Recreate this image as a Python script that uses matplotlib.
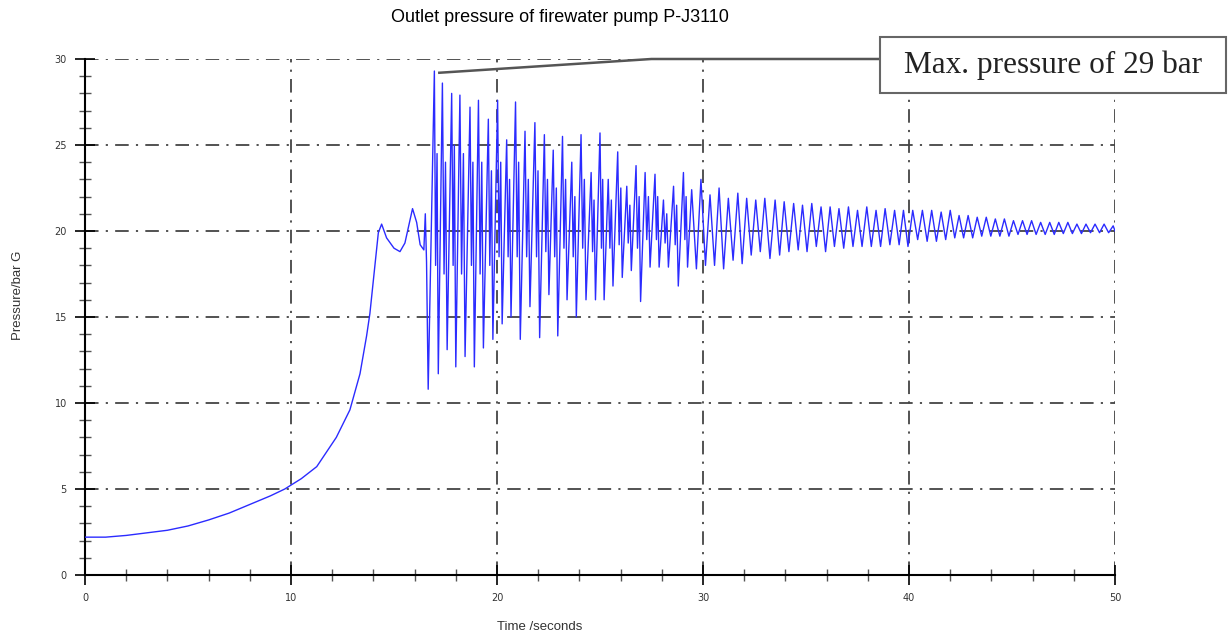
import numpy as np
import matplotlib.pyplot as plt
from matplotlib.ticker import MultipleLocator
from matplotlib.patches import Rectangle

# start-up curve
rise_t = [0, 1, 2, 3, 4, 5, 6, 7, 8, 9, 9.7, 10.5, 11.25, 12.2, 12.86, 13.35,
          13.67, 13.83, 14.08, 14.24, 14.4, 14.64, 15.0, 15.29, 15.53, 15.9,
          16.1, 16.27, 16.45, 16.52, 16.58, 16.66]
rise_p = [2.2, 2.2, 2.3, 2.45, 2.6, 2.85, 3.2, 3.6, 4.1, 4.6, 5.0, 5.6, 6.3,
          8.0, 9.6, 11.7, 13.9, 15.2, 18.1, 19.9, 20.4, 19.6, 19.0, 18.8, 19.3,
          21.3, 20.5, 19.2, 18.9, 21.0, 18.2, 10.8]

# oscillation peaks
peak_t = [16.96, 17.35, 17.80, 18.20, 18.69, 19.10, 19.58, 20.03, 20.47, 20.90,
          21.36, 21.84, 22.30, 22.73, 23.18, 23.63, 24.08, 24.57, 25.00, 25.40,
          25.86, 26.30, 26.75, 27.19, 27.67, 28.08, 28.57, 29.05, 29.45, 29.90,
          30.34, 30.78, 31.23, 31.69, 32.12, 32.56, 33.00, 33.50, 33.94, 34.40,
          34.83, 35.28, 35.73, 36.17, 36.60, 37.06, 37.50, 37.95, 38.40, 38.84,
          39.30, 39.73, 40.18, 40.65, 41.10, 41.56, 42.00, 42.43, 42.87, 43.31,
          43.75, 44.19, 44.63, 45.07, 45.51, 45.95, 46.39, 46.83, 47.27, 47.71,
          48.15, 48.59, 49.03, 49.47, 49.91]
peak_p = [29.3, 28.6, 28.0, 27.9, 27.2, 27.6, 26.5, 27.6, 25.3, 27.5,
          25.8, 26.3, 25.6, 24.7, 25.5, 24.0, 25.6, 23.4, 25.7, 23.0,
          24.6, 22.6, 23.8, 23.4, 23.3, 21.8, 22.6, 23.4, 22.4, 23.0,
          22.1, 22.5, 21.9, 22.2, 21.9, 21.8, 21.9, 21.8, 21.7, 21.6,
          21.5, 21.6, 21.4, 21.4, 21.3, 21.4, 21.2, 21.4, 21.2, 21.3,
          21.2, 21.2, 21.2, 21.2, 21.2, 21.1, 21.2, 20.9, 20.9, 20.8,
          20.8, 20.7, 20.7, 20.6, 20.6, 20.6, 20.5, 20.5, 20.5, 20.5,
          20.4, 20.4, 20.4, 20.4, 20.3]

# oscillation troughs
trough_t = [17.15, 17.58, 18.00, 18.45, 18.90, 19.34, 19.80, 20.25, 20.68, 21.13,
            21.60, 22.07, 22.52, 22.95, 23.40, 23.85, 24.32, 24.78, 25.20, 25.63,
            26.08, 26.52, 26.97, 27.43, 27.87, 28.32, 28.80, 29.25, 29.68, 30.12,
            30.56, 31.00, 31.46, 31.90, 32.34, 32.78, 33.25, 33.72, 34.17, 34.62,
            35.05, 35.50, 35.95, 36.38, 36.83, 37.28, 37.72, 38.17, 38.62, 39.07,
            39.52, 39.95, 40.42, 40.88, 41.33, 41.78, 42.22, 42.65, 43.09, 43.53,
            43.97, 44.41, 44.85, 45.29, 45.73, 46.17, 46.61, 47.05, 47.49, 47.93,
            48.37, 48.81, 49.25, 49.69, 50.0]
trough_p = [11.7, 13.1, 12.1, 12.7, 12.1, 13.2, 13.7, 14.6, 15.0, 13.7,
            15.6, 13.8, 16.3, 13.9, 16.0, 15.0, 16.0, 16.0, 16.0, 16.8,
            17.3, 17.7, 15.9, 17.9, 17.9, 17.9, 16.8, 17.9, 17.8, 18.0,
            18.0, 17.8, 18.3, 18.1, 18.6, 18.8, 18.4, 18.6, 18.8, 18.9,
            18.8, 19.1, 18.8, 19.1, 19.0, 19.1, 19.1, 19.1, 19.1, 19.2,
            19.2, 19.1, 19.5, 19.4, 19.4, 19.5, 19.6, 19.6, 19.6, 19.7,
            19.7, 19.7, 19.7, 19.8, 19.8, 19.8, 19.8, 19.8, 19.85, 19.85,
            19.85, 19.9, 19.9, 19.9, 20.0]

# secondary swings inside each early cycle (the lighter strokes)
mid_t = [17.02, 17.09, 17.43, 17.50, 17.87, 17.93, 18.28, 18.37, 18.76, 18.83,
         19.18, 19.26, 19.65, 19.73, 20.10, 20.18, 20.54, 20.61, 20.98, 21.05,
         21.44, 21.52, 21.92, 21.99, 22.37, 22.45, 22.80, 22.88, 23.25, 23.33,
         23.70, 23.78, 24.16, 24.24, 24.64, 24.71, 25.07, 25.13, 25.48, 25.55,
         25.93, 26.01, 26.37, 26.45, 26.82, 26.90, 27.27, 27.35, 27.74, 27.80,
         28.16, 28.24, 28.65, 28.72, 29.12, 29.18]
mid_p = [18.0, 24.5, 17.5, 24.0, 18.0, 25.0, 17.5, 24.5, 18.0, 24.0,
         17.5, 24.0, 18.0, 23.5, 18.5, 24.0, 18.5, 23.0, 18.5, 24.0,
         18.5, 23.0, 18.5, 23.5, 18.8, 23.0, 18.5, 22.5, 19.0, 23.0,
         18.5, 22.0, 19.0, 23.0, 18.8, 21.8, 19.0, 23.0, 19.0, 21.8,
         19.2, 22.5, 19.3, 21.5, 19.0, 22.0, 19.5, 22.0, 19.5, 22.0,
         19.3, 21.0, 19.2, 21.5, 19.5, 22.0]

# annotation line to the box
note_t = [17.2, 27.5, 38.6]
note_p = [29.2, 30.0, 30.0]

t = np.array(rise_t + peak_t + trough_t + mid_t)
p = np.array(rise_p + peak_p + trough_p + mid_p)
order = np.argsort(t, kind='stable')
t, p = t[order], p[order]

fig = plt.figure(figsize=(12.28, 6.35), dpi=100)
ax = fig.add_axes([0.0692, 0.0945, 0.8388, 0.8126])

ax.plot(t, p, color='#2b2bff', lw=1.0, zorder=3)
ax.plot(note_t, note_p, color='#555555', lw=1.8, clip_on=False, zorder=4)

ax.set_xlim(0, 50)
ax.set_ylim(0, 30)
ax.xaxis.set_major_locator(MultipleLocator(10))
ax.xaxis.set_minor_locator(MultipleLocator(2))
ax.yaxis.set_major_locator(MultipleLocator(5))
ax.yaxis.set_minor_locator(MultipleLocator(1))

ax.grid(True, which='major', color='#444444', lw=1.3,
        linestyle=(0, (7.5, 4, 1.2, 4)))
for s in ['top', 'right']:
    ax.spines[s].set_visible(False)
for s in ['left', 'bottom']:
    ax.spines[s].set_linewidth(1.5)

ax.tick_params(which='major', direction='inout', length=14, width=1.2,
               labelsize=7, labelcolor='#333333', pad=6)
ax.tick_params(which='minor', direction='inout', length=9, width=1.0,
               color='#555555')

fig.text(560 / 1228, 1 - 18 / 635, 'Outlet pressure of firewater pump P-J3110',
         ha='center', va='center', fontsize=13, family='Liberation Sans')
fig.text(18 / 1228, 1 - 295 / 635, 'Pressure/bar G', rotation=90,
         ha='center', va='center', fontsize=9.5, family='Liberation Sans',
         color='#333333')
fig.text(540 / 1228, 1 - 627 / 635, 'Time /seconds', ha='center',
         va='center', fontsize=9.5, family='Liberation Sans', color='#333333')

# callout box
fig.patches.append(Rectangle((880 / 1228, 1 - 93 / 635), 346 / 1228, 56 / 635,
                             transform=fig.transFigure, fc='white',
                             ec='#666666', lw=1.5, zorder=5))
fig.text(1053 / 1228, 1 - 65 / 635, 'Max. pressure of 29 bar', ha='center',
         va='center', fontsize=22.5, family='Liberation Serif', color='#222222',
         zorder=6)

fig.savefig('out.png', dpi=100)
